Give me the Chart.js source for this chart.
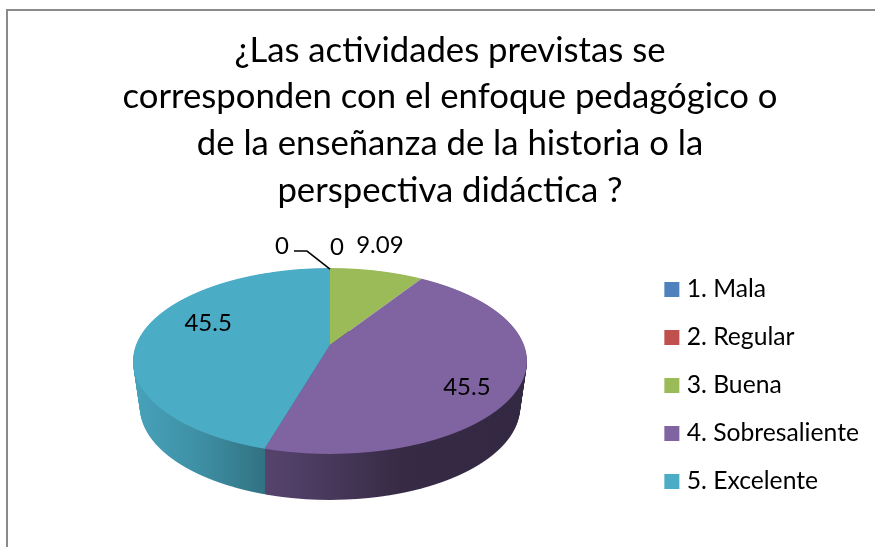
<!DOCTYPE html>
<html lang="es">
<head>
<meta charset="utf-8">
<script src="https://cdn.jsdelivr.net/npm/chart.js@4"></script>
<style>
html,body{margin:0;padding:0;background:#fff;width:875px;height:547px;overflow:hidden}
#frame{position:absolute;left:6px;top:9px;right:0;bottom:0;border-left:2px solid #8a8a8a;border-top:2px solid #8a8a8a}
canvas{position:absolute;left:0;top:0}
</style>
</head>
<body>
<div id="frame"></div>
<canvas id="c" width="875" height="547"></canvas>
<script>
const titleLines = ["¿Las actividades previstas se","corresponden con el enfoque pedagógico o","de la enseñanza de la historia o la","perspectiva didáctica ?"];
const categories = ["1. Mala","2. Regular","3. Buena","4. Sobresaliente","5. Excelente"];
const values = [0,0,9.09,45.5,45.5];
const valueLabels = ["0","0","9.09","45.5","45.5"];
const sliceColors = ["#4F81BD","#C0504D","#9BBB59","#8064A2","#4BACC6"];

// label placement: radial fraction and pixel nudge
const labelFrac = [1,1,1,0.75,0.65];
const labelDx = [-48,7,3,-3,1];
const labelDy = [-22,-21,-25,13,-14];

// perspective of the pie's top face
const P = {cx:330, cy:345, A:194, B:90.2, p:0.172, depth:46, taper:0.035};

function project(theta, f){
  const u = f*Math.sin(theta), v = -f*Math.cos(theta), w = 1-P.p*v;
  return {x:P.cx+P.A*u/w, y:P.cy+P.B*v/w};
}
function shade(hex,k){
  const n=parseInt(hex.slice(1),16);
  return `rgb(${Math.round((n>>16&255)*k)},${Math.round((n>>8&255)*k)},${Math.round((n&255)*k)})`;
}
function drawRows(ctx, arcs, rowFrom, rowTo, off, f){
  const a=arcs[0], r=a.outerRadius;
  for(let Y=rowFrom;Y<=rowTo;Y++){
    const d=Y+0.5-P.cy, v=d/(P.B+P.p*d), w=1-P.p*v;
    const sx=P.A/w/r*f, sy=P.B/(w*w)/r;
    ctx.save();
    ctx.setTransform(1,0,0,1,0,0);
    ctx.beginPath();ctx.rect(0,Y+off,875,1);ctx.clip();
    ctx.setTransform(sx,0,0,sy,P.cx-sx*a.x,Y+0.5+off-sy*(a.y+v*r));
    arcs.forEach(e=>e.draw(ctx));
    ctx.restore();
  }
}
const pie3d = {
  id:'pie3d',
  beforeDatasetsDraw(chart){
    const ctx=chart.ctx, meta=chart.getDatasetMeta(0);
    const arcs=meta.data.filter(e=>e.circumference>0);
    const top=Math.floor(project(0,1).y), bottom=Math.ceil(project(Math.PI,1).y);
    // side wall
    for(let k=P.depth;k>=1;k--){
      drawRows(ctx,arcs,P.cy-15,bottom,k,1-P.taper*k/P.depth);
    }
    // wall shading
    const seam=project(meta.data[4].startAngle+Math.PI/2,1).x;
    const x0=P.cx-200, x1=P.cx+200, pos=x=>(x-x0)/(x1-x0);
    const g=ctx.createLinearGradient(x0,0,x1,0);
    const teal=sliceColors[4], pur=sliceColors[3];
    g.addColorStop(0,shade(teal,0.95));
    g.addColorStop(pos(200),shade(teal,0.83));
    g.addColorStop(pos(seam),shade(teal,0.66));
    g.addColorStop(pos(seam)+0.0001,shade(pur,0.68));
    g.addColorStop(pos(330),shade(pur,0.56));
    g.addColorStop(pos(405),shade(pur,0.42));
    g.addColorStop(1,shade(pur,0.40));
    ctx.save();
    ctx.globalCompositeOperation='source-atop';
    ctx.fillStyle=g;
    ctx.fillRect(x0,P.cy-15,x1-x0,230);
    ctx.restore();
    // top face
    drawRows(ctx,arcs,top-1,bottom+1,0,1);

    // value labels
    ctx.save();
    ctx.font='24px Lato';
    ctx.fillStyle='#000';
    ctx.textAlign='center';
    ctx.textBaseline='middle';
    meta.data.forEach((e,i)=>{
      const mid=(e.startAngle+e.endAngle)/2+Math.PI/2;
      const q=project(mid,labelFrac[i]);
      ctx.fillText(valueLabels[i],q.x+labelDx[i],q.y+labelDy[i]);
    });
    // leader line of the first label
    const o=project(meta.data[0].startAngle+Math.PI/2,1);
    ctx.strokeStyle='#000';ctx.lineWidth=1.5;
    ctx.beginPath();
    ctx.moveTo(o.x-36,o.y-17);ctx.lineTo(o.x-23,o.y-17);ctx.lineTo(o.x,o.y+1);
    ctx.stroke();
    ctx.restore();
    return false;
  }
};
new Chart(document.getElementById('c'),{
  type:'pie',
  data:{labels:categories,datasets:[{data:values,backgroundColor:sliceColors,borderWidth:0}]},
  plugins:[pie3d],
  options:{
    responsive:false,
    animation:false,
    events:[],
    layout:{padding:{left:31,top:0,right:6,bottom:0}},
    plugins:{
      tooltip:{enabled:false},
      title:{display:true,text:titleLines,color:'#000',align:'center',
        font:{family:'Lato',size:34.7,weight:'normal',lineHeight:46.7/34.7},
        padding:{top:27,bottom:10}},
      legend:{display:true,position:'right',align:'center',fullSize:false,
        labels:{color:'#000',boxWidth:5,boxHeight:5,padding:23.3,
          font:{family:'Lato',size:24.7},
          generateLabels(){
            return categories.map((text,i)=>({text,index:i,hidden:false,
              fillStyle:sliceColors[i],strokeStyle:sliceColors[i],lineWidth:10}));
          }}}
    }
  }
});
</script>
</body>
</html>
